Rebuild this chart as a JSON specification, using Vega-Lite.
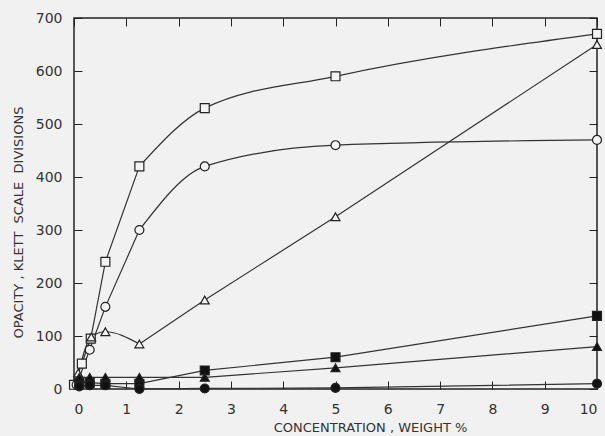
{
  "$schema": "https://vega.github.io/schema/vega-lite/v6.json",
  "autosize": {"type": "none"},
  "width": 523,
  "height": 371,
  "padding": {"left": 74, "top": 18, "right": 8, "bottom": 47},
  "background": "#f1f1f1",
  "config": {
    "view": {"stroke": "#222", "strokeWidth": 1.5},
    "font": "DejaVu Sans",
    "axis": {"grid": false, "domain": false, "tickColor": "#222", "labelColor": "#333", "titleColor": "#333", "labelFont": "DejaVu Sans", "titleFont": "DejaVu Sans", "labelFontSize": 14, "titleFontSize": 13, "titleFontWeight": "normal"}
  },
  "data": {"values": [
    {"s": "A", "shape": "square", "fill": "open", "x": 0, "y": 8},
    {"s": "A", "shape": "square", "fill": "open", "x": 0.15, "y": 48},
    {"s": "A", "shape": "square", "fill": "open", "x": 0.32, "y": 95},
    {"s": "A", "shape": "square", "fill": "open", "x": 0.6, "y": 240},
    {"s": "A", "shape": "square", "fill": "open", "x": 1.25, "y": 420},
    {"s": "A", "shape": "square", "fill": "open", "x": 2.5, "y": 530},
    {"s": "A", "shape": "square", "fill": "open", "x": 5, "y": 590},
    {"s": "A", "shape": "square", "fill": "open", "x": 10, "y": 670},
    {"s": "B", "shape": "circle", "fill": "open", "x": 0.05, "y": 8},
    {"s": "B", "shape": "circle", "fill": "open", "x": 0.3, "y": 74},
    {"s": "B", "shape": "circle", "fill": "open", "x": 0.6, "y": 155},
    {"s": "B", "shape": "circle", "fill": "open", "x": 1.25, "y": 300},
    {"s": "B", "shape": "circle", "fill": "open", "x": 2.5, "y": 420},
    {"s": "B", "shape": "circle", "fill": "open", "x": 5, "y": 460},
    {"s": "B", "shape": "circle", "fill": "open", "x": 10, "y": 470},
    {"s": "C", "shape": "triangle-up", "fill": "open", "x": 0.08, "y": 30},
    {"s": "C", "shape": "triangle-up", "fill": "open", "x": 0.33, "y": 98},
    {"s": "C", "shape": "triangle-up", "fill": "open", "x": 0.6, "y": 108},
    {"s": "C", "shape": "triangle-up", "fill": "open", "x": 1.25, "y": 85},
    {"s": "C", "shape": "triangle-up", "fill": "open", "x": 2.5, "y": 168},
    {"s": "C", "shape": "triangle-up", "fill": "open", "x": 5, "y": 325},
    {"s": "C", "shape": "triangle-up", "fill": "open", "x": 10, "y": 650},
    {"s": "D", "shape": "square", "fill": "filled", "x": 0.1, "y": 12},
    {"s": "D", "shape": "square", "fill": "filled", "x": 0.3, "y": 12},
    {"s": "D", "shape": "square", "fill": "filled", "x": 0.6, "y": 10},
    {"s": "D", "shape": "square", "fill": "filled", "x": 1.25, "y": 10},
    {"s": "D", "shape": "square", "fill": "filled", "x": 2.5, "y": 35},
    {"s": "D", "shape": "square", "fill": "filled", "x": 5, "y": 60},
    {"s": "D", "shape": "square", "fill": "filled", "x": 10, "y": 138},
    {"s": "E", "shape": "triangle-up", "fill": "filled", "x": 0.1, "y": 22},
    {"s": "E", "shape": "triangle-up", "fill": "filled", "x": 0.3, "y": 22},
    {"s": "E", "shape": "triangle-up", "fill": "filled", "x": 0.6, "y": 22},
    {"s": "E", "shape": "triangle-up", "fill": "filled", "x": 1.25, "y": 22},
    {"s": "E", "shape": "triangle-up", "fill": "filled", "x": 2.5, "y": 22},
    {"s": "E", "shape": "triangle-up", "fill": "filled", "x": 5, "y": 40},
    {"s": "E", "shape": "triangle-up", "fill": "filled", "x": 10, "y": 80},
    {"s": "F", "shape": "circle", "fill": "filled", "x": 0.1, "y": 5},
    {"s": "F", "shape": "circle", "fill": "filled", "x": 0.3, "y": 7},
    {"s": "F", "shape": "circle", "fill": "filled", "x": 0.6, "y": 7},
    {"s": "F", "shape": "circle", "fill": "filled", "x": 1.25, "y": 0},
    {"s": "F", "shape": "circle", "fill": "filled", "x": 2.5, "y": 1},
    {"s": "F", "shape": "circle", "fill": "filled", "x": 5, "y": 2},
    {"s": "F", "shape": "circle", "fill": "filled", "x": 10, "y": 10}
  ]},
  "resolve": {"axis": {"x": "independent", "y": "independent"}},
  "layer": [
    {
      "transform": [{"filter": "(datum.s === 'A' || datum.s === 'B') && datum.x <= 1.25 || (datum.s === 'C' && datum.x >= 1.25) || datum.s === 'D' || datum.s === 'E' || datum.s === 'F'"}],
      "mark": {"type": "line", "interpolate": "linear", "color": "#333", "strokeWidth": 1.2},
      "encoding": {
        "x": {"field": "x", "type": "quantitative", "scale": {"domain": [0, 10], "nice": false},
              "axis": {"orient": "bottom", "values": [0,1,2,3,4,5,6,7,8,9,10], "tickSize": -8, "labelPadding": 21, "title": "CONCENTRATION , WEIGHT %", "titlePadding": 5, "titleX": 296, "titleAlign": "center"}},
        "y": {"field": "y", "type": "quantitative", "scale": {"domain": [0, 700], "nice": false},
              "axis": {"orient": "left", "values": [0,100,200,300,400,500,600,700], "tickSize": -8, "labelPadding": 20, "title": "OPACITY ,\u00a0KLETT\u00a0\u00a0SCALE\u00a0\u00a0DIVISIONS", "titlePadding": 10, "titleY": 204, "titleAlign": "center"}},
        "detail": {"field": "s"}
      }
    },
    {
      "transform": [{"filter": "(datum.s === 'A' || datum.s === 'B') && datum.x >= 1.25 || (datum.s === 'C' && datum.x <= 1.25)"}],
      "mark": {"type": "line", "interpolate": "monotone", "color": "#333", "strokeWidth": 1.2},
      "encoding": {
        "x": {"field": "x", "type": "quantitative", "axis": null},
        "y": {"field": "y", "type": "quantitative", "axis": null},
        "detail": {"field": "s"}
      }
    },
    {
      "mark": {"type": "point", "size": 80, "stroke": "#222", "strokeWidth": 1.2, "opacity": 1, "filled": false},
      "encoding": {
        "x": {"field": "x", "type": "quantitative", "scale": {"domain": [0, 10], "nice": false},
              "axis": {"orient": "top", "values": [0,1,2,3,4,5,6,7,8,9,10], "tickSize": -8, "labels": false, "title": null}},
        "y": {"field": "y", "type": "quantitative", "scale": {"domain": [0, 700], "nice": false},
              "axis": {"orient": "right", "values": [0,100,200,300,400,500,600,700], "tickSize": -8, "labels": false, "title": null}},
        "shape": {"field": "shape", "type": "nominal", "scale": {"domain": ["square", "circle", "triangle-up"], "range": ["square", "circle", "triangle-up"]}, "legend": null},
        "fill": {"field": "fill", "type": "nominal", "scale": {"domain": ["open", "filled"], "range": ["#f4f4f4", "#111"]}, "legend": null}
      }
    }
  ]
}
